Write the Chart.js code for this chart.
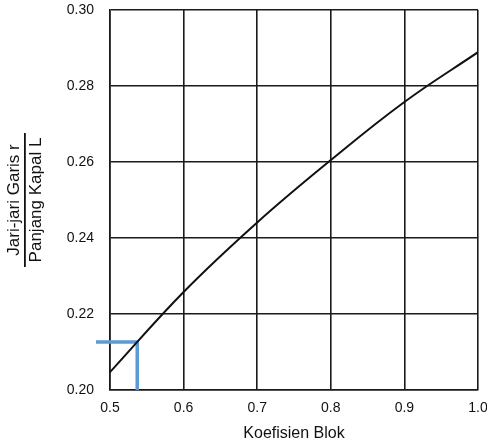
<!DOCTYPE html>
<html>
<head>
<meta charset="utf-8">
<script src="https://cdn.jsdelivr.net/npm/chart.js@4/dist/chart.umd.min.js"></script>
<style>
html,body{margin:0;padding:0;background:#fff;}
#wrap{width:487px;height:443px;position:relative;}
</style>
</head>
<body>
<div id="wrap"><canvas id="c" width="487" height="443"></canvas></div>
<script>
// Curve: Koefisien Blok vs r/L
const blockCoef = [0.5, 0.6, 0.7, 0.8, 0.9, 1.0];
const radiusRatio = [0.2047, 0.2258, 0.2441, 0.2605, 0.2758, 0.2889];
// Blue reading marker
const markerX = [0.481, 0.537, 0.537];
const markerY = [0.2126, 0.2126, 0.200];
// Axis labels
const xTitle = 'Koefisien Blok';
const yTitleTop = 'Jari-jari Garis r';
const yTitleBottom = 'Panjang Kapal L';

const fracPlugin = {
  id: 'fracTitle',
  afterDraw(chart) {
    const ctx = chart.ctx;
    const area = chart.chartArea;
    const cy = (area.top + area.bottom) / 2;
    ctx.save();
    ctx.translate(0, cy);
    ctx.rotate(-Math.PI / 2);
    ctx.fillStyle = '#111';
    ctx.font = '17px "Liberation Sans", Arial, sans-serif';
    ctx.textAlign = 'center';
    ctx.textBaseline = 'middle';
    ctx.fillText(yTitleTop, 0, 14);
    ctx.fillText(yTitleBottom, 0, 36);
    ctx.fillRect(-67, 24, 134, 1.8);
    ctx.restore();
  }
};

new Chart(document.getElementById('c'), {
  type: 'scatter',
  data: {
    datasets: [
      {
        data: blockCoef.map((x, i) => ({x: x, y: radiusRatio[i]})),
        showLine: true,
        borderColor: '#111',
        borderWidth: 2,
        pointRadius: 0,
        tension: 0.4,
        fill: false
      },
      {
        data: markerX.map((x, i) => ({x: x, y: markerY[i]})),
        showLine: true,
        borderColor: '#5b9bd5',
        borderWidth: 3.5,
        pointRadius: 0,
        tension: 0,
        clip: false,
        fill: false
      }
    ]
  },
  options: {
    responsive: false,
    animation: false,
    layout: {padding: {top: 10, right: 9, left: 0, bottom: 0}},
    plugins: {legend: {display: false}, tooltip: {enabled: false}},
    scales: {
      x: {
        type: 'linear',
        min: 0.5, max: 1.0,
        afterFit(s) { s.height = 53; s.paddingLeft = 0; s.paddingRight = 0; },
        ticks: {
          stepSize: 0.1,
          padding: 10,
          color: '#111',
          font: {family: '"Liberation Sans", Arial, sans-serif', size: 14},
          callback: v => v.toFixed(1)
        },
        grid: {color: '#1a1a1a', lineWidth: 1.6, drawTicks: false},
        border: {color: '#1a1a1a', width: 1.6},
        title: {
          display: true,
          text: xTitle,
          color: '#111',
          font: {family: '"Liberation Sans", Arial, sans-serif', size: 16},
          padding: {top: 4, bottom: 0}
        }
      },
      y: {
        type: 'linear',
        min: 0.20, max: 0.30,
        afterFit(s) { s.width = 110; s.paddingTop = 0; s.paddingBottom = 0; },
        ticks: {
          stepSize: 0.02,
          padding: 16,
          color: '#111',
          font: {family: '"Liberation Sans", Arial, sans-serif', size: 14},
          callback: v => v.toFixed(2)
        },
        grid: {color: '#1a1a1a', lineWidth: 1.6, drawTicks: false},
        border: {color: '#1a1a1a', width: 1.6}
      }
    }
  },
  plugins: [fracPlugin]
});
</script>
</body>
</html>
